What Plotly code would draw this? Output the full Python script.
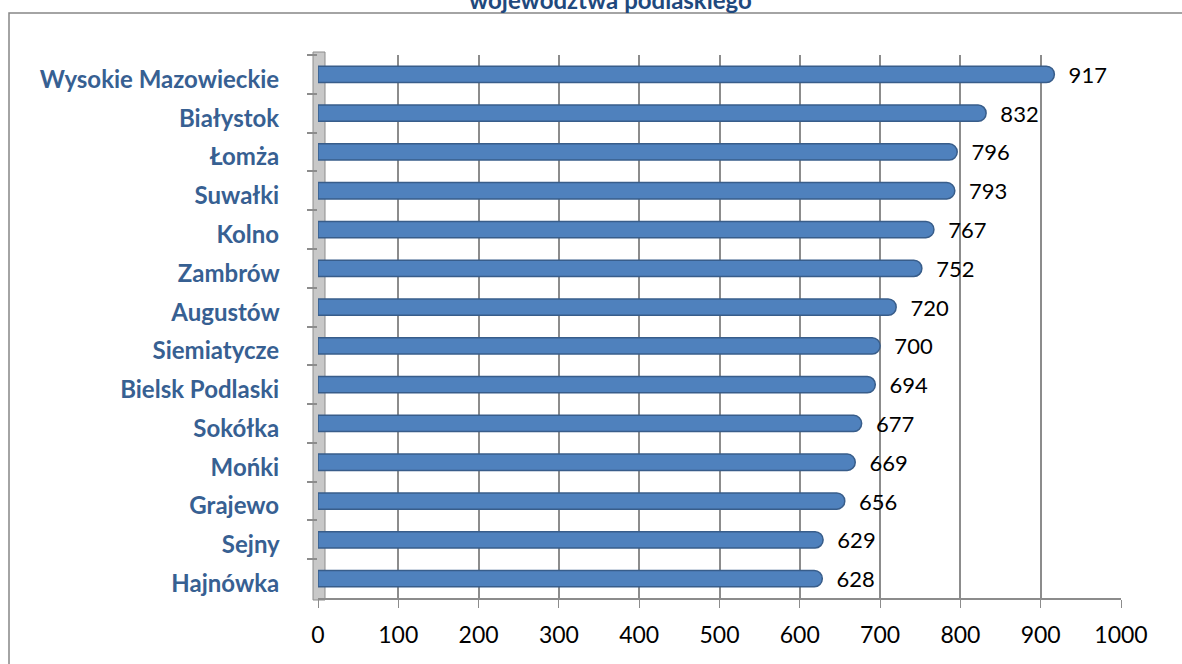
import plotly.graph_objects as go

categories = ["Wysokie Mazowieckie", "Białystok", "Łomża", "Suwałki", "Kolno", "Zambrów",
              "Augustów", "Siemiatycze", "Bielsk Podlaski", "Sokółka", "Mońki", "Grajewo",
              "Sejny", "Hajnówka"]
values = [917, 832, 796, 793, 767, 752, 720, 700, 694, 677, 669, 656, 629, 628]
x_ticks = [0, 100, 200, 300, 400, 500, 600, 700, 800, 900, 1000]
title_text = "województwa podlaskiego"

W, H = 1182, 664
L, R, T, B = 318, 1182 - 1121, 55, 664 - 598
pw, ph = W - L - R, H - T - B

def px(x):
    return (x - L) / pw

def py(y):
    return 1 - (y - T) / ph

fig = go.Figure(go.Bar(
    x=values, y=[c + " " for c in categories], orientation="h",
    marker=dict(color="#4F81BD", line=dict(color="#385D8A", width=1.5), cornerradius=8),
    width=0.42,
    text=["\u00a0\u00a0" + str(v) for v in values], textposition="outside",
    constraintext="none",
    textfont=dict(family="Lato", size=22, color="#000000"),
    cliponaxis=False,
))

fig.update_layout(
    width=W, height=H,
    margin=dict(l=L, r=R, t=T, b=B),
    paper_bgcolor="white", plot_bgcolor="white",
    showlegend=False,
    xaxis=dict(range=[0, 1000], tickvals=x_ticks, showgrid=True, gridcolor="#8C8C8C", gridwidth=1.5,
               zeroline=False, showline=True, linecolor="#8C8C8C", linewidth=1.5,
               ticks="outside", ticklen=8, tickcolor="#8C8C8C",
               tickfont=dict(family="Lato", size=23, color="#000000"), ticklabelstandoff=8),
    yaxis=dict(autorange="reversed", showgrid=False, showline=False,
               ticks="outside", ticklen=10, tickcolor="#8C8C8C", tickwidth=1.5,
               tickson="boundaries",
               tickfont=dict(family="Lato", size=24, color="#376092", weight="bold"),
               ticklabelstandoff=32, ticklabelshift=-5),
    shapes=[
        dict(type="rect", xref="paper", yref="paper", x0=px(9), x1=px(1200), y0=py(13), y1=py(680),
             line=dict(color="#868686", width=1.5), fillcolor="rgba(0,0,0,0)", layer="below"),
        dict(type="rect", xref="paper", yref="paper", x0=px(313), x1=px(325), y0=py(600), y1=py(52),
             line=dict(color="#8C8C8C", width=1), fillcolor="#C8C8C8", layer="below"),
    ],
    annotations=[
        dict(text=title_text, xref="paper", yref="paper", x=px(610), y=py(16), xanchor="center",
             yanchor="bottom", showarrow=False,
             font=dict(family="Lato", size=24, color="#1F497D", weight="bold")),
    ],
)

fig.write_html("out.html", config={"displayModeBar": False},
               post_script="document.body.style.margin='0';")
